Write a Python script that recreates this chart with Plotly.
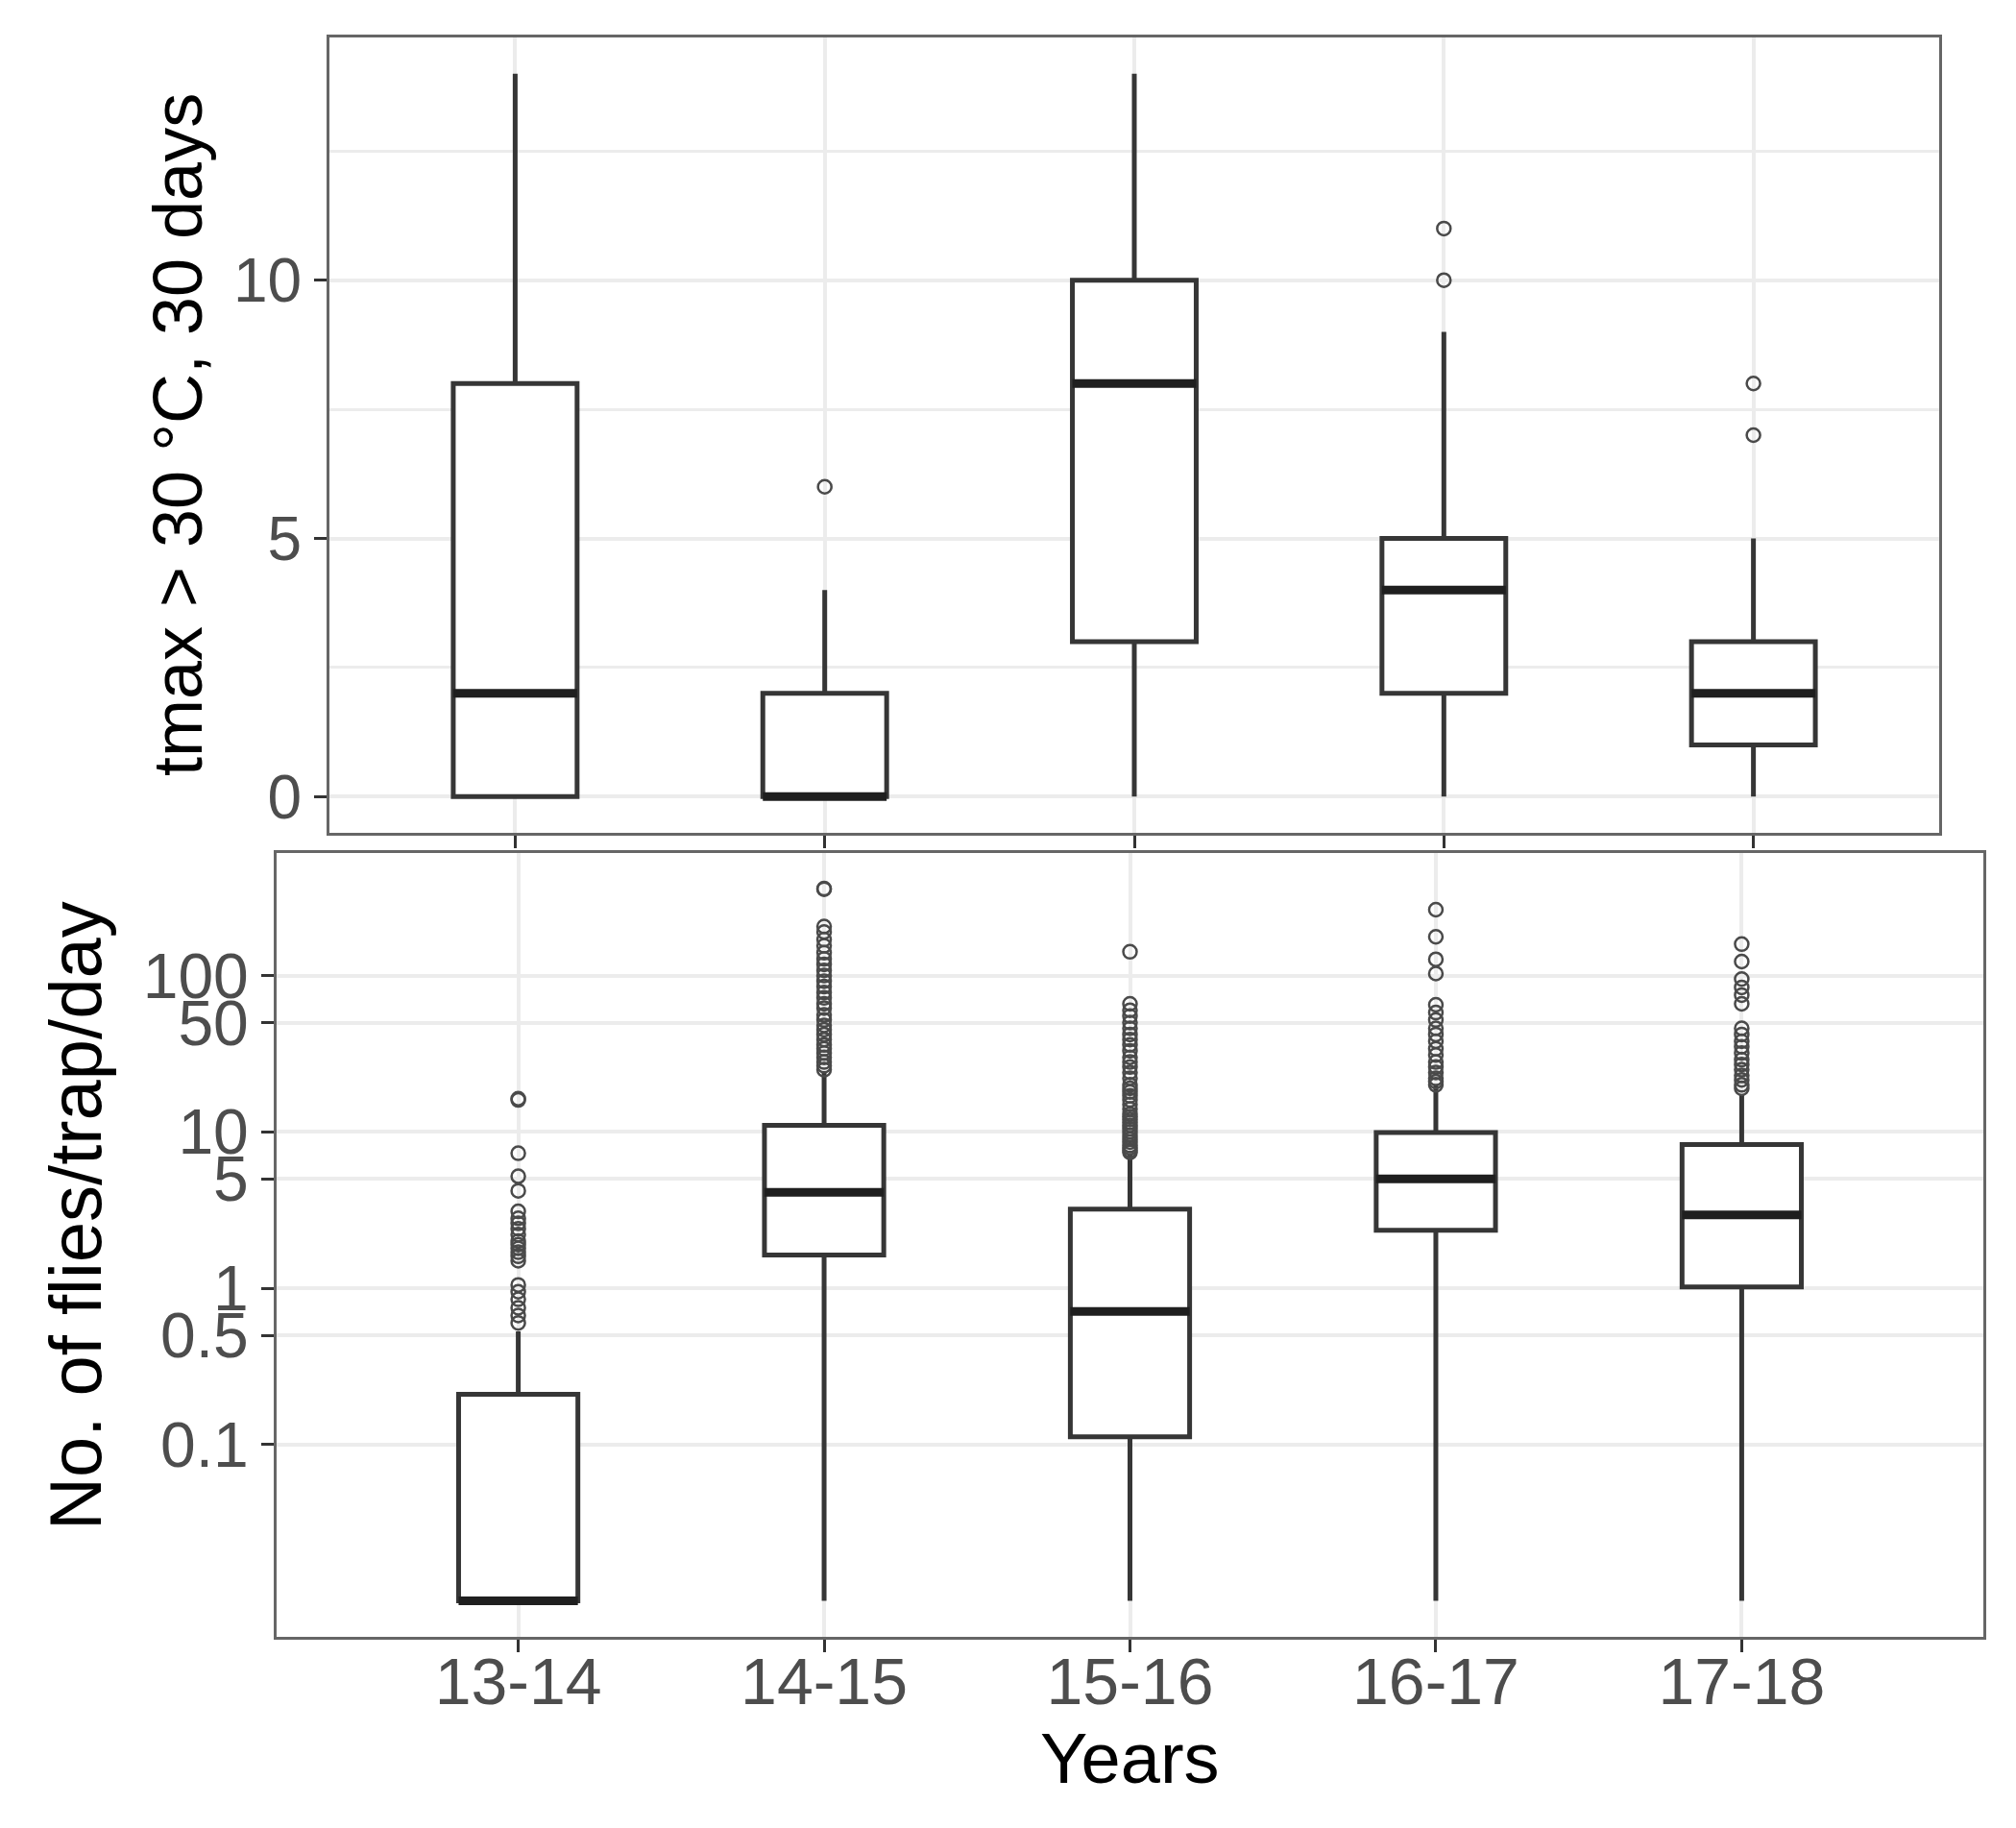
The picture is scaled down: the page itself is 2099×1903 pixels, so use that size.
import plotly.graph_objects as go

# Categories
years = ["13-14", "14-15", "15-16", "16-17", "17-18"]

# Top panel: days with tmax > 30 C in the 30 days before (box stats)
tmax_low = [0, 0, 0, 0, 0]
tmax_q1 = [0, 0, 3, 2, 1]
tmax_med = [2, 0, 8, 4, 2]
tmax_q3 = [8, 2, 10, 5, 3]
tmax_high = [14, 4, 14, 9, 5]
tmax_out_x = ["14-15", "16-17", "16-17", "17-18", "17-18"]
tmax_out_y = [6, 10, 11, 7, 8]

# Bottom panel: flies/trap/day (box stats, log scale)
flies_low = [0.01, 0.01, 0.01, 0.01, 0.01]
flies_q1 = [0.01, 1.63, 0.112, 2.35, 1.02]
flies_med = [0.01, 4.1, 0.71, 5.0, 2.94]
flies_q3 = [0.21, 11.0, 3.2, 9.9, 8.3]
flies_high = [0.53, 24.5, 7.3, 20, 17.2]

out_1314 = [16, 16.3, 7.3, 5.2, 4.2, 3.1, 2.8, 2.6, 2.4, 2.2, 2.0, 1.9, 1.8, 1.7,
            1.6, 1.5, 1.05, 0.95, 0.85, 0.75, 0.67, 0.6]
out_1415 = [357, 360, 206, 190, 170, 155, 140, 128, 118, 108, 100, 92, 85, 78, 72,
            66, 62, 56, 52, 48, 45, 42, 39, 36, 34, 32, 30, 28, 26.5, 25]
out_1516 = [142, 66, 60, 55, 50, 46, 42, 39, 36, 33, 30, 28, 26, 24, 22, 20, 19, 18,
            17, 16, 15, 14, 13, 12.5, 12, 11.5, 11, 10.5, 10, 9.5, 9, 8.6, 8.2, 7.9,
            7.6, 7.4]
out_1617 = [264, 177, 127, 103, 65, 58, 52, 46, 42, 38, 34, 31, 28, 26, 24, 22, 21, 20]
out_1718 = [159, 123, 95, 84, 75, 66, 46, 42, 38, 35, 32, 29, 27, 25, 23, 21.5, 20, 19]
flies_out = [out_1314, out_1415, out_1516, out_1617, out_1718]

flies_ticks = [0.1, 0.5, 1, 5, 10, 50, 100]

FONT = "Liberation Sans, Arial, sans-serif"
BOX_LINE = "#363636"
MED_LINE = "#1f1f1f"
GRID = "#ececec"
PT = "#4a4a4a"

fig = go.Figure()

# ---- top panel
fig.add_trace(go.Box(
    x=years, q1=tmax_q1, median=tmax_med, q3=tmax_q3,
    lowerfence=tmax_low, upperfence=tmax_high,
    boxpoints=False, width=0.4, whiskerwidth=0, fillcolor="white",
    line=dict(color=BOX_LINE, width=5), xaxis="x", yaxis="y", showlegend=False,
))
# thicker median bar drawn as a flat box at the median value
fig.add_trace(go.Box(
    x=years, q1=tmax_med, median=tmax_med, q3=tmax_med,
    lowerfence=tmax_med, upperfence=tmax_med,
    boxpoints=False, width=0.4, whiskerwidth=0, fillcolor="rgba(0,0,0,0)",
    line=dict(color=MED_LINE, width=9), xaxis="x", yaxis="y", showlegend=False,
))
fig.add_trace(go.Scatter(
    x=tmax_out_x, y=tmax_out_y, mode="markers", xaxis="x", yaxis="y",
    marker=dict(symbol="circle-open", size=14, color=PT, line=dict(width=2.5, color=PT)),
    showlegend=False,
))

# ---- bottom panel
fig.add_trace(go.Box(
    x=years, q1=flies_q1, median=flies_med, q3=flies_q3,
    lowerfence=flies_low, upperfence=flies_high,
    boxpoints=False, width=0.39, whiskerwidth=0, fillcolor="white",
    line=dict(color=BOX_LINE, width=5), xaxis="x2", yaxis="y2", showlegend=False,
))
fig.add_trace(go.Box(
    x=years, q1=flies_med, median=flies_med, q3=flies_med,
    lowerfence=flies_med, upperfence=flies_med,
    boxpoints=False, width=0.39, whiskerwidth=0, fillcolor="rgba(0,0,0,0)",
    line=dict(color=MED_LINE, width=9), xaxis="x2", yaxis="y2", showlegend=False,
))
for yr, vals in zip(years, flies_out):
    fig.add_trace(go.Scatter(
        x=[yr] * len(vals), y=vals, mode="markers", xaxis="x2", yaxis="y2",
        marker=dict(symbol="circle-open", size=14, color=PT, line=dict(width=2.5, color=PT)),
        showlegend=False,
    ))

axis_common = dict(
    showline=True, mirror=True, linecolor="#666666", linewidth=3,
    ticks="outside", ticklen=13, tickwidth=3, tickcolor="#333333",
    showgrid=True, gridcolor=GRID, gridwidth=4, zeroline=False,
)

fig.update_layout(
    width=2099, height=1903,
    margin=dict(l=0, r=0, t=0, b=0),
    paper_bgcolor="white", plot_bgcolor="white",
    boxmode="overlay",
    font=dict(family=FONT),
    xaxis=dict(
        **axis_common, domain=[335 / 2099, 2011 / 2099], anchor="y",
        type="category", categoryorder="array", categoryarray=years,
        range=[-0.6, 4.6], showticklabels=False,
    ),
    yaxis=dict(
        **axis_common, domain=[1 - 859 / 1903, 1 - 31 / 1903], anchor="x",
        range=[-0.7, 14.7], tickvals=[0, 5, 10],
        tickfont=dict(family=FONT, size=64, color="#4d4d4d"),
        minor=dict(dtick=2.5, tick0=0, showgrid=True, gridcolor=GRID, gridwidth=3),
    ),
    xaxis2=dict(
        **axis_common, domain=[280 / 2099, 2057 / 2099], anchor="y2",
        type="category", categoryorder="array", categoryarray=years,
        range=[-0.79, 4.79], ticklabelstandoff=-28,
        tickfont=dict(family=FONT, size=68, color="#4d4d4d"),
    ),
    yaxis2=dict(
        **axis_common, domain=[1 - 1696 / 1903, 1 - 880 / 1903], anchor="x2",
        type="log", range=[-2.23, 2.784],
        tickvals=flies_ticks, ticktext=[str(v) for v in flies_ticks],
        tickfont=dict(family=FONT, size=66, color="#4d4d4d"),
    ),
)

fig.add_annotation(
    text="tmax > 30 °C, 30 days", xref="paper", yref="paper",
    x=177 / 2099, y=1 - 445 / 1903, xanchor="center", yanchor="middle",
    textangle=-90, showarrow=False, font=dict(family=FONT, size=72, color="black"),
)
fig.add_annotation(
    text="No. of flies/trap/day", xref="paper", yref="paper",
    x=70 / 2099, y=1 - 1258 / 1903, xanchor="center", yanchor="middle",
    textangle=-90, showarrow=False, font=dict(family=FONT, size=76, color="black"),
)
fig.add_annotation(
    text="Years", xref="paper", yref="paper",
    x=1168 / 2099, y=1 - 1822 / 1903, xanchor="center", yanchor="middle",
    showarrow=False, font=dict(family=FONT, size=74, color="black"),
)

fig.write_html("out.html")
